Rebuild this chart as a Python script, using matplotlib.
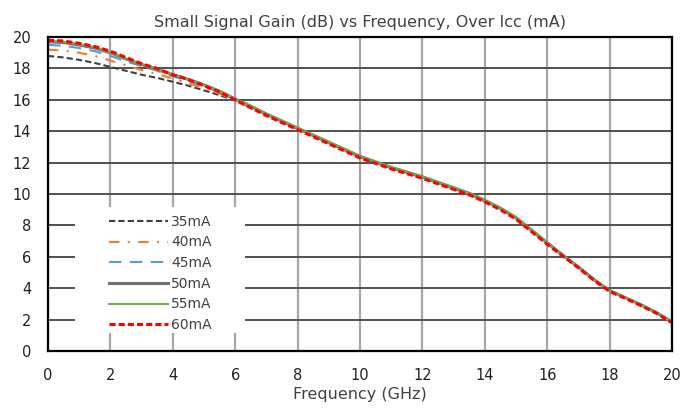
import matplotlib
matplotlib.use("Agg")
import matplotlib.pyplot as plt
import numpy as np

plt.rcParams['font.family'] = ['DejaVu Sans']

freq = np.arange(0, 20.01, 0.5)

gain_35 = [18.8, 18.7, 18.55, 18.35, 18.1, 17.85, 17.6, 17.4, 17.15, 16.9, 16.6, 16.3, 15.95,
           15.5, 15.05, 14.6, 14.15, 13.7, 13.25, 12.8, 12.35, 12.0, 11.65, 11.35, 11.05, 10.7,
           10.35, 10.0, 9.55, 9.05, 8.45, 7.65, 6.85, 6.1, 5.35, 4.55, 3.85, 3.4, 2.95, 2.45, 1.85]
gain_40 = [19.2, 19.15, 19.0, 18.8, 18.5, 18.2, 17.9, 17.65, 17.35, 17.05, 16.75, 16.4, 15.95,
           15.5, 15.05, 14.6, 14.15, 13.7, 13.25, 12.8, 12.35, 12.0, 11.65, 11.35, 11.05, 10.7,
           10.35, 10.0, 9.55, 9.05, 8.45, 7.65, 6.85, 6.1, 5.35, 4.55, 3.85, 3.4, 2.95, 2.45, 1.85]
gain_45 = [19.5, 19.45, 19.3, 19.1, 18.8, 18.45, 18.15, 17.85, 17.5, 17.2, 16.85, 16.5, 16.0,
           15.55, 15.1, 14.65, 14.2, 13.75, 13.3, 12.85, 12.4, 12.05, 11.7, 11.4, 11.1, 10.75,
           10.4, 10.05, 9.6, 9.1, 8.5, 7.7, 6.9, 6.1, 5.35, 4.55, 3.85, 3.4, 2.95, 2.45, 1.85]
gain_50 = [19.7, 19.65, 19.5, 19.3, 19.0, 18.6, 18.25, 17.95, 17.6, 17.3, 16.95, 16.55, 16.05,
           15.6, 15.1, 14.65, 14.2, 13.75, 13.3, 12.85, 12.4, 12.05, 11.7, 11.4, 11.1, 10.75,
           10.4, 10.05, 9.6, 9.1, 8.5, 7.7, 6.9, 6.1, 5.35, 4.55, 3.85, 3.4, 2.95, 2.45, 1.85]
gain_55 = [19.75, 19.7, 19.55, 19.35, 19.0, 18.6, 18.25, 17.95, 17.6, 17.3, 16.95, 16.55, 16.05,
           15.6, 15.1, 14.65, 14.2, 13.75, 13.3, 12.85, 12.4, 12.05, 11.7, 11.4, 11.1, 10.75,
           10.4, 10.05, 9.6, 9.1, 8.5, 7.7, 6.9, 6.1, 5.35, 4.55, 3.85, 3.4, 2.95, 2.45, 1.85]
gain_60 = [19.8, 19.75, 19.6, 19.4, 19.1, 18.7, 18.3, 18.0, 17.6, 17.3, 16.9, 16.5, 16.0,
           15.5, 15.0, 14.55, 14.1, 13.65, 13.2, 12.75, 12.3, 11.95, 11.6, 11.3, 11.0, 10.65,
           10.3, 9.95, 9.5, 9.0, 8.4, 7.6, 6.8, 6.05, 5.3, 4.5, 3.8, 3.35, 2.9, 2.4, 1.8]

labels = ["35mA", "40mA", "45mA", "50mA", "55mA", "60mA"]

txt = '#404040'

fig = plt.figure(figsize=(6.84, 4.12), dpi=100)
ax = fig.add_axes([0.0702, 0.148, 0.9123, 0.762])

# white area behind the legend, hides the grid there
ax.add_patch(plt.Rectangle((0.043, 0.057), 0.273, 0.402, transform=ax.transAxes,
                           facecolor='white', edgecolor='none', zorder=1.5))

ax.plot(freq, gain_35, color='#404040', lw=1.5, ls=(0, (3, 1.5)), label=labels[0], zorder=3)
ax.plot(freq, gain_40, color='#ed7d31', lw=1.5, ls=(0, (5, 4, 1, 4)), label=labels[1], zorder=3)
ax.plot(freq, gain_45, color='#5b9bd5', lw=1.5, ls=(0, (6, 4)), label=labels[2], zorder=3)
ax.plot(freq, gain_50, color='#707070', lw=2.2, ls='-', label=labels[3], zorder=3)
ax.plot(freq, gain_55, color='#70ad47', lw=1.5, ls='-', label=labels[4], zorder=3)
ax.plot(freq, gain_60, color='#ff0000', lw=2.2, ls=(0, (2, 1)), label=labels[5], zorder=3)

ax.set_xlim(0, 20)
ax.set_ylim(0, 20)
ax.set_xticks(range(0, 21, 2))
ax.set_yticks(range(0, 21, 2))
ax.tick_params(length=0, labelsize=10.5, labelcolor='#202020')
ax.tick_params(axis='y', pad=12)
ax.tick_params(axis='x', pad=12)
ax.grid(axis='x', color='#a6a6a6', lw=1.6)
ax.grid(axis='y', color='#505050', lw=1.4)
ax.set_axisbelow(True)
for s in ax.spines.values():
    s.set_linewidth(1.6)
    s.set_color('black')
    s.set_zorder(4)

ax.set_title("Small Signal Gain (dB) vs Frequency, Over Icc (mA)", fontsize=11.5, pad=7, color=txt)
ax.set_xlabel("Frequency (GHz)", fontsize=11.5, labelpad=3, color=txt)

leg = ax.legend(loc='upper left', bbox_to_anchor=(0.097, 0.434), frameon=False,
                fontsize=10, handlelength=4.3, handletextpad=0.2,
                labelspacing=0.48, borderaxespad=0, borderpad=0)
for t in leg.get_texts():
    t.set_color(txt)
leg.set_zorder(5)

fig.savefig("out.png", dpi=100)
